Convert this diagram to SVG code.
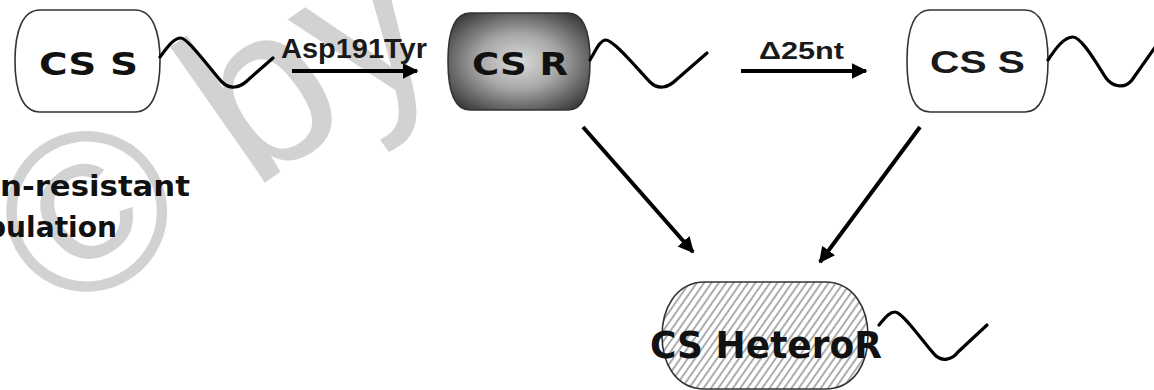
<svg xmlns="http://www.w3.org/2000/svg" width="1154" height="390" viewBox="0 0 1154 390">
<style>
.box{stroke:#333;stroke-width:1.6}
.comic{font-family:"DejaVu Sans",sans-serif;font-weight:bold;fill:#111}
.arial{font-family:"Liberation Sans",Arial,sans-serif;font-weight:bold;fill:#1a1a1a}
.wave{fill:none;stroke:#000;stroke-width:3.2;stroke-linejoin:round;stroke-linecap:round}
.conn{fill:none;stroke:#000;stroke-width:4}
.wm{font-family:"Liberation Sans",Arial,sans-serif;fill:#d2d2d2}
</style>
<defs>
<radialGradient id="dark" cx="50%" cy="50%" r="62%">
<stop offset="0" stop-color="#dadada"/>
<stop offset="0.45" stop-color="#a8a8a8"/>
<stop offset="1" stop-color="#3a3a3a"/>
</radialGradient>
<pattern id="hatch" width="6" height="6" patternUnits="userSpaceOnUse" patternTransform="rotate(35)">
<rect width="6" height="6" fill="#fff"/>
<line x1="1" y1="0" x2="1" y2="6" stroke="#8a8a8a" stroke-width="1.4"/>
</pattern>
<marker id="ah" viewBox="0 0 10 10" refX="9" refY="5" markerWidth="4" markerHeight="4" orient="auto">
<path d="M0,0 L10,5 L0,10 Z" fill="#000"/>
</marker>
</defs>
<rect width="1154" height="390" fill="#fff"/>
<g id="watermark">
<text class="wm" x="63" y="324" font-size="228" transform="rotate(-35 63 324)">© by</text>
</g>
<g id="node-cs-s-1">
<path class="box" fill="#fff" d="M40,10 L135,10 C152,10 160,30 160,61 C160,92 152,112 135,112 L40,112 C23,112 15,92 15,61 C15,30 23,10 40,10 Z"/>
<text class="comic" x="39" y="75" font-size="32" textLength="99" lengthAdjust="spacingAndGlyphs">CS S</text>
<path class="wave" d="M160,57 C168,46 174,38 181,38 C188,38 214,74 222,82 C230,90 240,88 248,80 L273,58"/>
</g>
<g id="node-cs-r">
<path class="box" fill="url(#dark)" d="M470,13 L568,13 C584,13 590,32 590,61 C590,90 584,110 568,110 L470,110 C454,110 448,90 448,61 C448,32 454,13 470,13 Z"/>
<text class="comic" x="472" y="75" font-size="32" textLength="96" lengthAdjust="spacingAndGlyphs">CS R</text>
<path class="wave" d="M590,60 C596,50 600,40 606,40 C614,40 640,72 650,82 C658,90 668,88 676,80 L707,53"/>
</g>
<g id="node-cs-s-2">
<path class="box" fill="#fff" d="M930,10 L1025,10 C1042,10 1048,30 1048,61 C1048,92 1042,112 1025,112 L930,112 C913,112 907,92 907,61 C907,30 913,10 930,10 Z"/>
<text class="arial" x="930" y="73" font-size="32" textLength="95" lengthAdjust="spacingAndGlyphs">CS S</text>
<path class="wave" d="M1048,60 C1056,48 1064,37 1073,37 C1082,37 1098,66 1106,78 C1112,86 1124,90 1132,80 L1156,46"/>
</g>
<g id="node-cs-heteror">
<path class="box" fill="url(#hatch)" d="M705,282 L825,282 C855,282 868,310 868,336 C868,362 855,389 825,389 L705,389 C675,389 662,362 662,336 C662,310 675,282 705,282 Z"/>
<text class="comic" x="650" y="358" font-size="38" textLength="232" lengthAdjust="spacingAndGlyphs">CS HeteroR</text>
<path class="wave" d="M879,325 C885,318 889,312 895,312 C903,312 925,345 935,355 C942,362 952,360 958,352 L987,325"/>
</g>
<g id="label-left">
<text class="comic" x="0" y="196" font-size="28" textLength="190" lengthAdjust="spacingAndGlyphs">n-resistant</text>
<text class="comic" x="-14" y="237" font-size="28" textLength="131" lengthAdjust="spacingAndGlyphs">pulation</text>
</g>
<g id="connectors">
<line class="conn" x1="292" y1="71" x2="417" y2="71" marker-end="url(#ah)"/>
<text class="arial" x="281" y="58" font-size="28" textLength="146" lengthAdjust="spacingAndGlyphs">Asp191Tyr</text>
<line class="conn" x1="741" y1="71" x2="866" y2="71" marker-end="url(#ah)"/>
<text class="arial" x="759" y="59" font-size="24" textLength="85" lengthAdjust="spacingAndGlyphs">Δ25nt</text>
<line class="conn" x1="583" y1="127" x2="693" y2="252" marker-end="url(#ah)"/>
<line class="conn" x1="920" y1="127" x2="820" y2="262" marker-end="url(#ah)"/>
</g>
</svg>
